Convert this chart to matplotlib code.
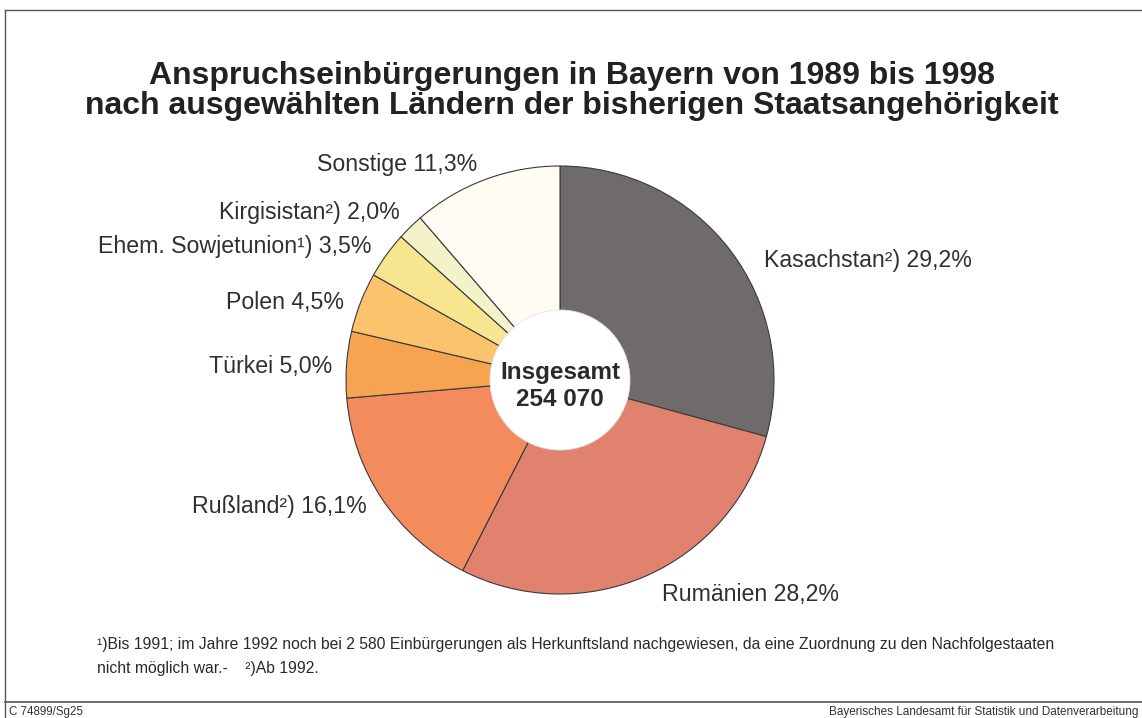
import matplotlib
matplotlib.use("Agg")
import matplotlib.pyplot as plt
from matplotlib.patches import Circle

plt.rcParams['font.family'] = ['Liberation Sans', 'DejaVu Sans']

# ---- data ----
categories = ["Kasachstan²)", "Rumänien", "Rußland²)", "Türkei", "Polen",
              "Ehem. Sowjetunion¹)", "Kirgisistan²)", "Sonstige"]
shares = [29.2, 28.2, 16.1, 5.0, 4.5, 3.5, 2.0, 11.3]
total_label = "Insgesamt\n254 070"
colors = ["#6f6b6a", "#e0826e", "#f38b5c", "#f6a352", "#fbc46c",
          "#f8e58f", "#f4f2c9", "#fffdf3"]

title_lines = ["Anspruchseinbürgerungen in Bayern von 1989 bis 1998",
               "nach ausgewählten Ländern der bisherigen Staatsangehörigkeit"]
footnote = ("¹)Bis 1991; im Jahre 1992 noch bei 2 580 Einbürgerungen als Herkunftsland nachgewiesen, "
            "da eine Zuordnung zu den Nachfolgestaaten\nnicht möglich war.-    ²)Ab 1992.")
code_left = "C 74899/Sg25"
code_right = "Bayerisches Landesamt für Statistik und Datenverarbeitung"

# ---- layout (pixel coordinates, y from top) ----
W, H = 1142, 718
cx, cy, R, r_hole = 560, 380, 214, 70
label_pos = [  # (x, y, ha)
    (764, 260, "left"),
    (662, 595, "left"),
    (367, 506, "right"),
    (332, 366, "right"),
    (344, 302, "right"),
    (372, 247, "right"),
    (400, 213, "right"),
    (477, 164, "right"),
]
title_baselines = [84, 114]

fig = plt.figure(figsize=(W / 100, H / 100), dpi=100)
ax = fig.add_axes([0, 0, 1, 1])
ax.set_xlim(0, W)
ax.set_ylim(0, H)
ax.axis("off")

def Y(y):
    return H - y

ax.pie(shares, colors=colors, startangle=90, counterclock=False,
       center=(cx, Y(cy)), radius=R, normalize=True,
       wedgeprops=dict(edgecolor="#3a3a3a", linewidth=0.8))
ax.add_patch(Circle((cx, Y(cy)), r_hole, facecolor="white", edgecolor="#e4e4e4",
                    linewidth=0.6, zorder=5))
ax.set_xlim(0, W)
ax.set_ylim(0, H)
ax.set_aspect("auto")

for cat, val, (x, y, ha) in zip(categories, shares, label_pos):
    num = f"{val:.1f}".replace(".", ",")
    ax.text(x, Y(y), f"{cat} {num}%", ha=ha, va="center", fontsize=16.7,
            color="#303030")

ax.text(cx, Y(386), total_label, ha="center", va="center", fontsize=17.5,
        fontweight="bold", color="#2a2a2a", linespacing=1.2, zorder=6)

for line, yb in zip(title_lines, title_baselines):
    ax.text(572, Y(yb), line, ha="center", va="baseline", fontsize=23,
            fontweight="bold", color="#222222")

ax.text(97, Y(656), footnote, ha="left", va="center", fontsize=11.3,
        color="#2a2a2a", linespacing=1.75)

ax.text(9, Y(712), code_left, ha="left", va="center", fontsize=8.3, color="#333333")
ax.text(1138, Y(712), code_right, ha="right", va="center", fontsize=8.5, color="#333333")

# frame lines
ax.plot([5, W], [Y(10), Y(10)], color="#555555", lw=1.0)
ax.plot([5, 5], [Y(10), Y(718)], color="#555555", lw=1.0)
ax.plot([5, W], [Y(702), Y(702)], color="#555555", lw=1.2)

fig.savefig("out.png", dpi=100)
